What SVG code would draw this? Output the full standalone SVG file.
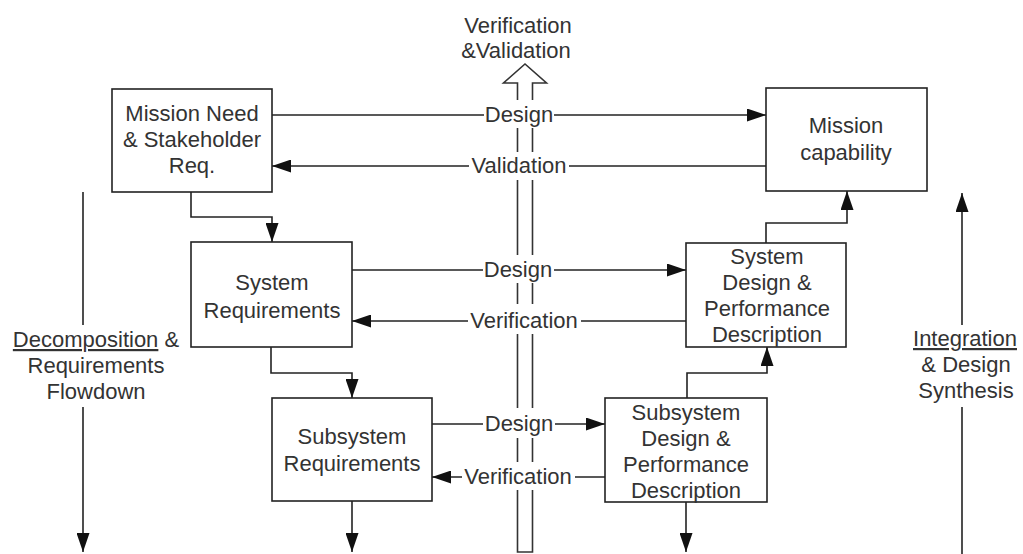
<svg xmlns="http://www.w3.org/2000/svg" width="1023" height="554" viewBox="0 0 1023 554">
  <style>
    text { font-family: "Liberation Sans", Arial, sans-serif; font-size: 22px; fill: #333; text-anchor: middle; }
    .box { fill: #fff; stroke: #222; stroke-width: 1.6; }
    .wire { fill: none; stroke: #222; stroke-width: 1.6; }
    .head { fill: #fff; stroke: #333; stroke-width: 1.6; }
    .mask { fill: #fff; }
    .ul { text-decoration: underline; }
  </style>
  <defs>
    <marker id="arrow" markerUnits="userSpaceOnUse" viewBox="0 0 19 13" refX="19" refY="6.5" markerWidth="19" markerHeight="13" orient="auto">
      <path d="M0,0 L19,6.5 L0,13 Z" fill="#111"/>
    </marker>
  </defs>
  <rect width="1023" height="554" fill="#fff"/>

  <!-- Verification & Validation hollow arrow -->
  <g id="vv-arrow">
    <path class="head" d="M517.5,552 V83 H503.5 L525,64 L546.5,83 H532.5 V552 Z"/>
    <text x="518" y="33">Verification</text>
    <text x="516" y="58">&amp;Validation</text>
  </g>

  <!-- connectors -->
  <g id="connectors">
    <path class="wire" d="M272,115 H766" marker-end="url(#arrow)"/>
    <path class="wire" d="M766,166 H272" marker-end="url(#arrow)"/>
    <path class="wire" d="M191,192 V217 H272 V242" marker-end="url(#arrow)"/>
    <path class="wire" d="M352,270 H686" marker-end="url(#arrow)"/>
    <path class="wire" d="M686,321 H352" marker-end="url(#arrow)"/>
    <path class="wire" d="M271,347 V373 H352 V398" marker-end="url(#arrow)"/>
    <path class="wire" d="M432,424 H605" marker-end="url(#arrow)"/>
    <path class="wire" d="M605,477 H432" marker-end="url(#arrow)"/>
    <path class="wire" d="M352,501 V552" marker-end="url(#arrow)"/>
    <path class="wire" d="M686,502 V552" marker-end="url(#arrow)"/>
    <path class="wire" d="M687,398 V373 H767 V347" marker-end="url(#arrow)"/>
    <path class="wire" d="M766,243 V223 H847 V191" marker-end="url(#arrow)"/>
    <path class="wire" d="M83,192 V325"/>
    <path class="wire" d="M83,407 V552" marker-end="url(#arrow)"/>
    <path class="wire" d="M962,554 V407"/>
    <path class="wire" d="M962,325 V193" marker-end="url(#arrow)"/>

    <!-- connector labels -->
    <rect class="mask" x="484" y="100" width="70" height="28"/>
    <text x="519" y="122">Design</text>
    <rect class="mask" x="469" y="152" width="100" height="28"/>
    <text x="519" y="173">Validation</text>
    <rect class="mask" x="483" y="255" width="71" height="28"/>
    <text x="518" y="277">Design</text>
    <rect class="mask" x="468" y="304" width="113" height="30"/>
    <text x="524" y="328">Verification</text>
    <rect class="mask" x="483" y="408" width="72" height="30"/>
    <text x="519" y="431">Design</text>
    <rect class="mask" x="462" y="462" width="113" height="28"/>
    <text x="518" y="484">Verification</text>
  </g>

  <g id="mission-need">
    <rect class="box" x="112" y="89" width="160" height="103"/>
    <text x="192" y="121">Mission Need</text>
    <text x="192" y="147">&amp; Stakeholder</text>
    <text x="192" y="173">Req.</text>
  </g>

  <g id="mission-capability">
    <rect class="box" x="766" y="88" width="161" height="103"/>
    <text x="846" y="133">Mission</text>
    <text x="846" y="160">capability</text>
  </g>

  <g id="system-requirements">
    <rect class="box" x="191" y="242" width="161" height="105"/>
    <text x="272" y="290">System</text>
    <text x="272" y="318">Requirements</text>
  </g>

  <g id="system-design">
    <rect class="box" x="686" y="243" width="160" height="104"/>
    <text x="767" y="264">System</text>
    <text x="767" y="290">Design &amp;</text>
    <text x="767" y="316">Performance</text>
    <text x="767" y="342">Description</text>
  </g>

  <g id="subsystem-requirements">
    <rect class="box" x="272" y="398" width="160" height="103"/>
    <text x="352" y="444">Subsystem</text>
    <text x="352" y="471">Requirements</text>
  </g>

  <g id="subsystem-design">
    <rect class="box" x="605" y="398" width="162" height="104"/>
    <text x="686" y="420">Subsystem</text>
    <text x="686" y="446">Design &amp;</text>
    <text x="686" y="472">Performance</text>
    <text x="686" y="498">Description</text>
  </g>

  <g id="decomposition-label">
    <text x="96" y="347"><tspan class="ul">Decomposition</tspan> &amp;</text>
    <text x="96" y="373">Requirements</text>
    <text x="96" y="399">Flowdown</text>
  </g>

  <g id="integration-label">
    <text x="965" y="346" class="ul">Integration</text>
    <text x="966" y="372">&amp; Design</text>
    <text x="966" y="398">Synthesis</text>
  </g>
</svg>
